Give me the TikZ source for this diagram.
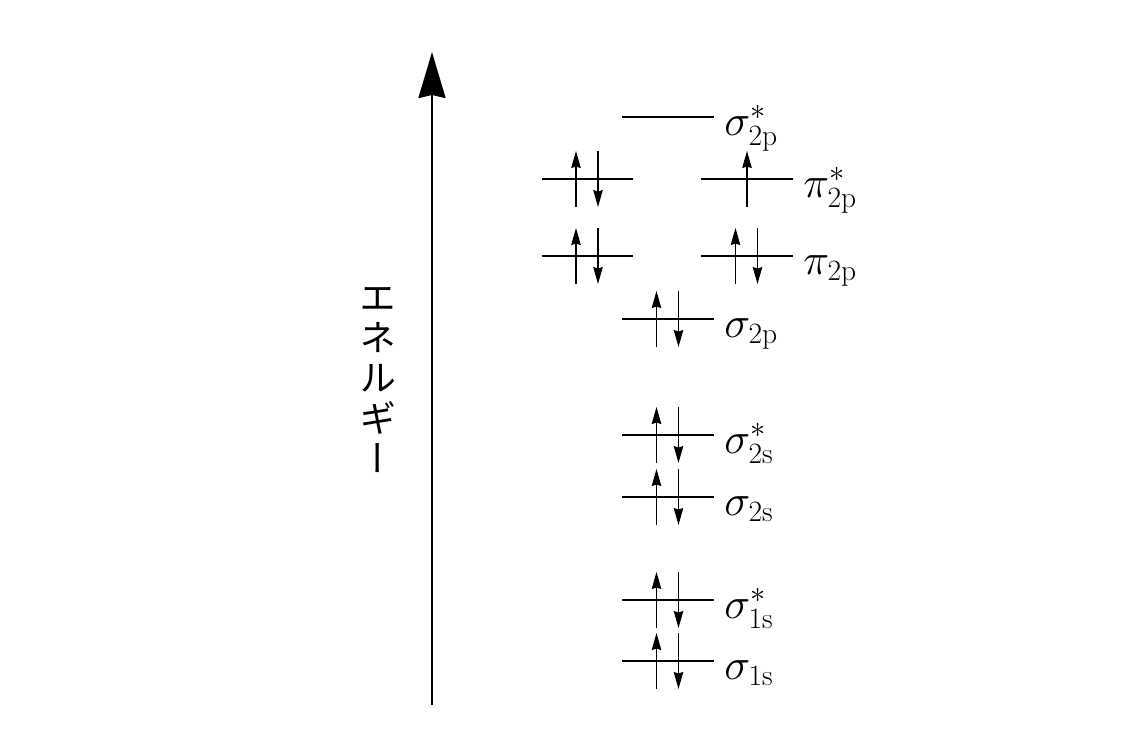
\documentclass[tikz,border=0pt]{standalone}
\usepackage{fontspec}
\usepackage{tikz}
\usetikzlibrary{arrows.meta, positioning, calc}
\newfontfamily\jpfont[RawFeature=+vert]{Noto Sans CJK JP}
\tikzset{
    levelbox/.style={rectangle, inner sep=0pt, outer sep=0pt,
        minimum width=1.84cm, minimum height=0pt},
    levelline/.style={line width=1.4pt},
    spin/.style={-{Stealth[length=0.34cm, width=0.19cm, inset=0.03cm]}, line width=0.65pt},
    energyaxis/.style={-{Stealth[length=0.92cm, width=0.54cm, inset=0.06cm]}, line width=1.3pt},
    orblabel/.style={anchor=base west, inner sep=0pt, font=\fontsize{24}{28}\selectfont},
    jplabel/.style={align=center, inner sep=0pt, font=\jpfont\fontsize{21}{22.8}\selectfont},
}
\begin{document}
\begin{tikzpicture}[x=0.02cm, y=-0.02cm]
    \useasboundingbox (0,0) rectangle (1140,754);
    % energy axis
    \coordinate (axisbot) at (432,705);
    \coordinate (axistop) at (432,52);
    \draw[energyaxis] (axisbot) -- (axistop);
    \node[jplabel] (energylabel) at (378,380) {エ\\ネ\\ル\\ギ\\ー};
    % levels
    \foreach \lvl/\cx/\cy in {s1s/668/661, s1ss/668/600, s2s/668/497, s2ss/668/435,
        s2p/668/319, p2pL/587.5/256, p2pR/747/256, ps2pL/587.5/179, ps2pR/747/179, ss2p/668/117}
        \node[levelbox] (\lvl) at (\cx,\cy) {};
    \foreach \lvl in {s1s, s1ss, s2s, s2ss, s2p, p2pL, p2pR, ps2pL, ps2pR, ss2p}
        \draw[levelline] (\lvl.west) -- (\lvl.east);
    % labels
    \node[orblabel] (lab-s1s) at ($(s1s.east)+(10,18)$) {$\sigma_{\mathrm{1s}}$};
    \node[orblabel] (lab-s1ss) at ($(s1ss.east)+(10,18)$) {$\sigma_{\mathrm{1s}}^{*}$};
    \node[orblabel] (lab-s2s) at ($(s2s.east)+(10,18)$) {$\sigma_{\mathrm{2s}}$};
    \node[orblabel] (lab-s2ss) at ($(s2ss.east)+(10,18)$) {$\sigma_{\mathrm{2s}}^{*}$};
    \node[orblabel] (lab-s2p) at ($(s2p.east)+(10,18)$) {$\sigma_{\mathrm{2p}}$};
    \node[orblabel] (lab-p2p) at ($(p2pR.east)+(10,18)$) {$\pi_{\mathrm{2p}}$};
    \node[orblabel] (lab-ps2p) at ($(ps2pR.east)+(10,18)$) {$\pi_{\mathrm{2p}}^{*}$};
    \node[orblabel] (lab-ss2p) at ($(ss2p.east)+(10,18)$) {$\sigma_{\mathrm{2p}}^{*}$};
    % electrons
    \foreach \lvl in {s1s, s1ss, s2s, s2ss, s2p, p2pL, p2pR, ps2pL} {
        \draw[spin] ($(\lvl)+(-11.5,28)$) -- ($(\lvl)+(-11.5,-28)$);
        \draw[spin] ($(\lvl)+(10.5,-28)$) -- ($(\lvl)+(10.5,28)$);
    }
    \draw[spin] ($(ps2pR)+(0,28)$) -- ($(ps2pR)+(0,-28)$);
\end{tikzpicture}
\end{document}
